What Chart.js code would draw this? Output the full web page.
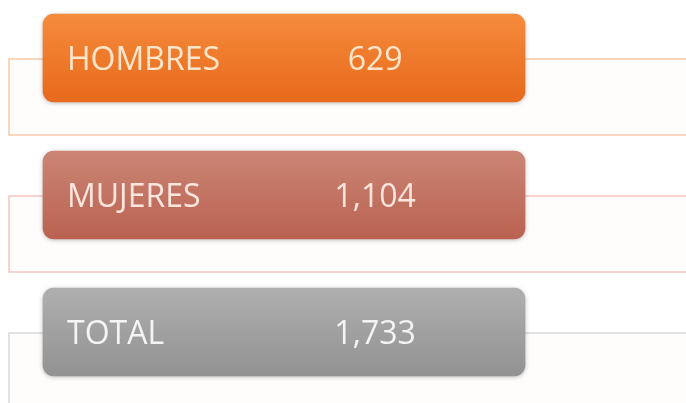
<!DOCTYPE html>
<html>
<head>
<meta charset="utf-8">
<script src="https://cdn.jsdelivr.net/npm/chart.js@4"></script>
<style>
  body { margin: 0; background: #fff; }
  canvas { display: block; }
</style>
</head>
<body>
<canvas id="chart" width="686" height="403"></canvas>
<script>
// Data
const categories = ['HOMBRES', 'MUJERES', 'TOTAL'];
const values = [629, 1104, 1733];
const badgeFill = [1, 1, 1]; // every badge spans the full row

// Styles
const barTop = ['#f58b3c', '#cb8575', '#afafaf'];
const barBottom = ['#e8691b', '#ba6251', '#929292'];
const frameColors = ['#f7caa9', '#f3c7bf', '#d9d9d9'];
const textColors = ['#fde6cc', '#fbe6de', '#f4f4f4'];
const FONT = '32px "Open Sans", Lato, sans-serif';

// Outline boxes behind each badge, plus the badge texts
const framePlugin = {
    id: 'frames',
    beforeDatasetsDraw(chart) {
        const ctx = chart.ctx;
        const meta = chart.getDatasetMeta(0);
        meta.data.forEach((bar, i) => {
            const left = chart.chartArea.left - 34;
            ctx.save();
            ctx.fillStyle = '#fffdfc';
            ctx.strokeStyle = frameColors[i];
            ctx.lineWidth = 1.5;
            ctx.fillRect(left, bar.y + 1, chart.width + 20, 76);
            ctx.strokeRect(left, bar.y + 1, chart.width + 20, 76);
            ctx.restore();
        });
        // soft shadow under the badges
        ctx.save();
        ctx.shadowColor = 'rgba(0,0,0,0.25)';
        ctx.shadowBlur = 4;
        ctx.shadowOffsetY = 1;
    },
    afterDatasetsDraw(chart) {
        const ctx = chart.ctx;
        ctx.restore();
        const meta = chart.getDatasetMeta(0);
        meta.data.forEach((bar, i) => {
            const w = bar.x - bar.base;
            ctx.save();
            ctx.font = FONT;
            ctx.fillStyle = textColors[i];
            ctx.textBaseline = 'alphabetic';
            ctx.textAlign = 'left';
            ctx.fillText(categories[i], bar.base + 24, bar.y + 12);
            ctx.textAlign = 'center';
            ctx.fillText(values[i].toLocaleString('en-US'), bar.base + w * 0.689, bar.y + 12);
            ctx.restore();
        });
    }
};

function barGradient(context) {
    const chart = context.chart;
    const i = context.dataIndex;
    if (!chart.chartArea || i === undefined) return barTop[0];
    const y = chart.scales.y.getPixelForValue(i);
    const g = chart.ctx.createLinearGradient(0, y - 44, 0, y + 44);
    g.addColorStop(0, barTop[i]);
    g.addColorStop(1, barBottom[i]);
    return g;
}

new Chart(document.getElementById('chart').getContext('2d'), {
    type: 'bar',
    data: {
        labels: categories,
        datasets: [{
            data: badgeFill,
            backgroundColor: barGradient,
            borderWidth: 0,
            borderRadius: 11,
            borderSkipped: false,
            barThickness: 88,
            clip: false
        }]
    },
    options: {
        indexAxis: 'y',
        responsive: false,
        animation: false,
        events: [],
        layout: { padding: { left: 43, right: 161, top: 58, bottom: 71 } },
        scales: {
            x: { display: false, min: 0, max: 1 },
            y: { display: false, offset: false }
        },
        plugins: {
            legend: { display: false },
            tooltip: { enabled: false }
        }
    },
    plugins: [framePlugin]
});
</script>
</body>
</html>
